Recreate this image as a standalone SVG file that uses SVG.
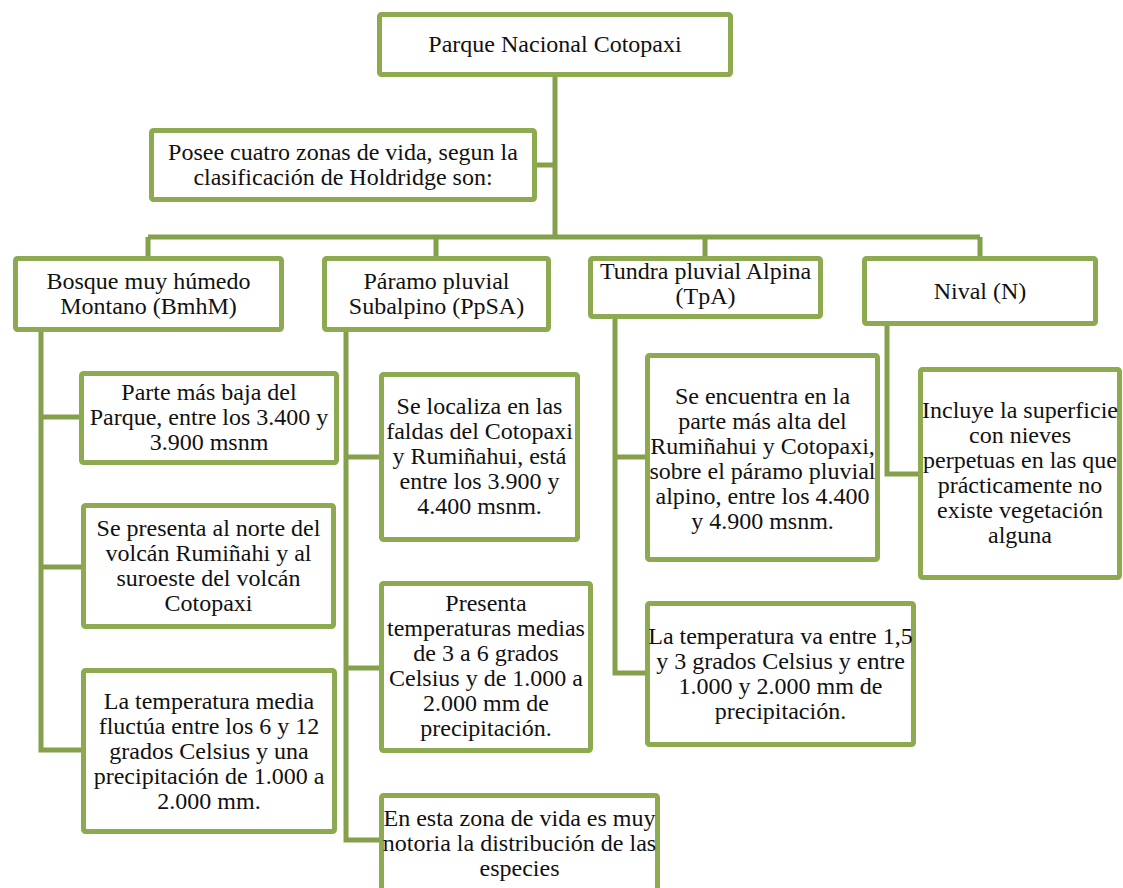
<svg xmlns="http://www.w3.org/2000/svg" width="1123" height="888" viewBox="0 0 1123 888">
<style>
.box{fill:#fff;stroke:#8EAA51;stroke-width:5}
.conn{fill:none;stroke:#84A04A;stroke-width:5;stroke-linejoin:miter}
text{font-family:"Liberation Serif","Times New Roman",serif;font-size:24px;fill:#111;text-anchor:middle}
</style>
<rect width="1123" height="888" fill="#fff"/>
<g id="connectors">
<path class="conn" d="M555,77 V237 M537,165 H555 M148,237 H980 M148,237 V256 M436,237 V256 M705,237 V256 M980,237 V256"/>
<path class="conn" d="M41,332 V750 H82 M41,417 H82 M41,567 H82"/>
<path class="conn" d="M346,332 V840 H379 M346,457 H379 M346,668 H379"/>
<path class="conn" d="M615,319 V673 H645 M615,457 H645"/>
<path class="conn" d="M887,326 V474 H918"/>
</g>
<g id="root"><rect class="box" x="379.5" y="14.5" width="351" height="60" rx="2"/><text x="555" y="52">Parque Nacional Cotopaxi</text></g>
<g id="posee"><rect class="box" x="151.5" y="130.5" width="383" height="69" rx="2"/><text x="343" y="160">Posee cuatro zonas de vida, segun la</text><text x="343" y="185">clasificación de Holdridge son:</text></g>
<g id="bosque"><rect class="box" x="15.5" y="258.5" width="266" height="71" rx="2"/><text x="148.5" y="289">Bosque muy húmedo</text><text x="148.5" y="314">Montano (BmhM)</text></g>
<g id="paramo"><rect class="box" x="324.5" y="258.5" width="224" height="71" rx="2"/><text x="436.5" y="289">Páramo pluvial</text><text x="436.5" y="314">Subalpino (PpSA)</text></g>
<g id="tundra"><rect class="box" x="590.5" y="258.5" width="230" height="58" rx="2"/><text x="705.5" y="279">Tundra pluvial Alpina</text><text x="705.5" y="304">(TpA)</text></g>
<g id="nival"><rect class="box" x="864.5" y="258.5" width="231" height="65" rx="2"/><text x="980" y="299">Nival (N)</text></g>
<g id="b1"><rect class="box" x="81.5" y="373.5" width="255" height="89" rx="2"/><text x="209" y="400">Parte más baja del</text><text x="209" y="425">Parque, entre los 3.400 y</text><text x="209" y="450">3.900 msnm</text></g>
<g id="b2"><rect class="box" x="83.5" y="505.5" width="250" height="121" rx="2"/><text x="208.5" y="536">Se presenta al norte del</text><text x="208.5" y="561">volcán Rumiñahi y al</text><text x="208.5" y="586">suroeste del volcán</text><text x="208.5" y="611">Cotopaxi</text></g>
<g id="b3"><rect class="box" x="83.5" y="670.5" width="251" height="161" rx="2"/><text x="209" y="709">La temperatura media</text><text x="209" y="734">fluctúa entre los 6 y 12</text><text x="209" y="759">grados Celsius y una</text><text x="209" y="784">precipitación de 1.000 a</text><text x="209" y="809">2.000 mm.</text></g>
<g id="p1"><rect class="box" x="381.5" y="374.5" width="196" height="165" rx="2"/><text x="479.5" y="414">Se localiza en las</text><text x="479.5" y="439">faldas del Cotopaxi</text><text x="479.5" y="464">y Rumiñahui, está</text><text x="479.5" y="489">entre los 3.900 y</text><text x="479.5" y="514">4.400 msnm.</text></g>
<g id="p2"><rect class="box" x="381.5" y="583.5" width="209" height="167" rx="2"/><text x="486" y="611">Presenta</text><text x="486" y="636">temperaturas medias</text><text x="486" y="661">de 3 a 6 grados</text><text x="486" y="686">Celsius y de 1.000 a</text><text x="486" y="711">2.000 mm de</text><text x="486" y="736">precipitación.</text></g>
<g id="p3"><rect class="box" x="381.5" y="795.5" width="276" height="100" rx="2"/><text x="519.5" y="826">En esta zona de vida es muy</text><text x="519.5" y="851">notoria la distribución de las</text><text x="519.5" y="876">especies</text></g>
<g id="t1"><rect class="box" x="647.5" y="355.5" width="230" height="204" rx="2"/><text x="762.5" y="404">Se encuentra en la</text><text x="762.5" y="429">parte más alta del</text><text x="762.5" y="454">Rumiñahui y Cotopaxi,</text><text x="762.5" y="479">sobre el páramo pluvial</text><text x="762.5" y="504">alpino, entre los 4.400</text><text x="762.5" y="529">y 4.900 msnm.</text></g>
<g id="t2"><rect class="box" x="647.5" y="603.5" width="266" height="141" rx="2"/><text x="780.5" y="644">La temperatura va entre 1,5</text><text x="780.5" y="669">y 3 grados Celsius y entre</text><text x="780.5" y="694">1.000 y 2.000 mm de</text><text x="780.5" y="719">precipitación.</text></g>
<g id="n1"><rect class="box" x="920.5" y="369.5" width="199" height="208" rx="2"/><text x="1020" y="418">Incluye la superficie</text><text x="1020" y="443">con nieves</text><text x="1020" y="468">perpetuas en las que</text><text x="1020" y="493">prácticamente no</text><text x="1020" y="518">existe vegetación</text><text x="1020" y="543">alguna</text></g>
</svg>
